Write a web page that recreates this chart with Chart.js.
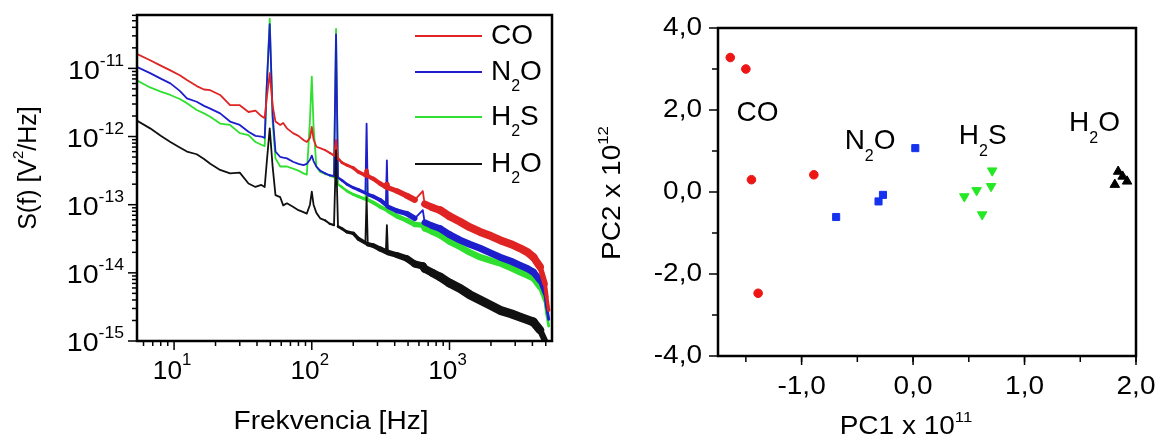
<!DOCTYPE html>
<html>
<head>
<meta charset="utf-8">
<script src="https://cdn.jsdelivr.net/npm/chart.js@4.4.1/dist/chart.umd.min.js"></script>
<style>
  html, body { margin: 0; padding: 0; background: #fff; }
  #wrap { position: relative; width: 1158px; height: 439px; overflow: hidden; }
  .box { position: absolute; top: 0; height: 439px; }
</style>
</head>
<body>
<div id="wrap">
  <div class="box" style="left:0;width:580px"><canvas id="spec"></canvas></div>
  <div class="box" style="left:580px;width:578px"><canvas id="pca"></canvas></div>
</div>
<script>
/* ---- left panel: noise spectra, values read as log10 S(f) ---- */
var freq = [5.4, 6.7, 8.0, 9.4, 11, 12.4, 14.6, 16.5, 18.3, 21.6, 25.5, 30, 34.7, 39, 43, 45.5, 47, 49.5, 52, 54.5,
  59, 62, 66, 73, 80, 87, 92, 97, 100, 103, 108, 115, 125, 135, 145, 150, 155, 165, 180, 200,
  218, 245, 250, 255, 280, 313, 345, 351, 357, 416, 490, 560, 640, 660, 750, 855, 1000, 1194, 1400, 1668,
  2000, 2331, 2800, 3258, 3700, 4068, 4545, 4944, 5080, 5250];

var coLog = [-10.79, -10.88, -10.96, -11.03, -11.10, -11.17, -11.26, -11.31, -11.32, -11.39, -11.54, -11.54, -11.64, -11.62, -11.70, -11.73, -11.45, -11.07, -11.55, -11.78,
  -11.83, -11.80, -11.88, -11.95, -11.99, -12.05, -12.08, -12.02, -11.86, -12.04, -12.15, -12.17, -12.20, -12.24, -12.28, -12.05, -12.32, -12.38, -12.42, -12.46,
  -12.52, -12.57, -12.50, -12.58, -12.62, -12.69, -12.74, -12.70, -12.75, -12.80, -12.87, -12.93, -12.80, -12.99, -13.04, -13.08, -13.17, -13.25, -13.33, -13.40,
  -13.46, -13.52, -13.58, -13.64, -13.70, -13.77, -13.91, -14.16, -14.35, -14.55];

var n2oLog = [-10.98, -11.07, -11.15, -11.22, -11.33, -11.44, -11.49, -11.55, -11.59, -11.66, -11.78, -11.83, -11.93, -11.99, -12.00, -12.02, -11.30, -10.35, -11.70, -12.22,
  -12.30, -12.31, -12.32, -12.37, -12.40, -12.42, -12.40, -12.34, -12.28, -12.36, -12.44, -12.50, -12.54, -12.57, -12.58, -10.50, -12.60, -12.64, -12.70, -12.75,
  -12.78, -12.83, -11.81, -12.85, -12.88, -12.93, -13.00, -12.35, -13.03, -13.09, -13.13, -13.20, -13.08, -13.26, -13.31, -13.35, -13.44, -13.52, -13.58, -13.64,
  -13.71, -13.77, -13.83, -13.89, -13.94, -13.99, -14.11, -14.30, -14.50, -14.68];

var h2sLog = [-11.18, -11.28, -11.34, -11.39, -11.45, -11.51, -11.61, -11.66, -11.71, -11.81, -11.83, -11.95, -11.98, -12.08, -12.12, -12.14, -11.30, -10.27, -11.80, -12.32,
  -12.44, -12.44, -12.44, -12.47, -12.50, -12.54, -12.56, -11.75, -11.12, -11.85, -12.44, -12.52, -12.55, -12.57, -12.60, -10.42, -12.70, -12.74, -12.80, -12.85,
  -12.88, -12.92, -12.70, -12.93, -12.97, -13.03, -13.07, -12.95, -13.09, -13.17, -13.23, -13.29, -13.30, -13.35, -13.40, -13.45, -13.54, -13.62, -13.70, -13.77,
  -13.82, -13.86, -13.93, -13.99, -14.04, -14.08, -14.21, -14.40, -14.60, -14.78];

var h2oLog = [-11.77, -11.88, -11.99, -12.08, -12.16, -12.22, -12.26, -12.33, -12.40, -12.49, -12.54, -12.53, -12.69, -12.74, -12.71, -12.74, -12.40, -11.88, -12.45, -12.86,
  -12.89, -13.01, -12.98, -13.03, -13.08, -13.11, -13.13, -13.00, -12.81, -13.00, -13.12, -13.20, -13.23, -13.28, -13.30, -12.20, -13.32, -13.35, -13.40, -13.42,
  -13.50, -13.56, -12.89, -13.58, -13.60, -13.65, -13.69, -13.30, -13.70, -13.74, -13.79, -13.87, -13.90, -13.94, -14.00, -14.06, -14.15, -14.23, -14.32, -14.40,
  -14.48, -14.55, -14.60, -14.65, -14.69, -14.72, -14.84, -15.00, -15.10, -15.20];

/* ---- right panel: PCA scores ---- */
var coX = [-1.64, -1.50, -1.45, -0.89, -1.39];
var coY = [3.28, 3.00, 0.30, 0.42, -2.47];
var n2oX = [0.02, -0.69, -0.31, -0.27];
var n2oY = [1.07, -0.61, -0.23, -0.07];
var h2sX = [0.71, 0.70, 0.57, 0.46, 0.62];
var h2sY = [0.52, 0.14, 0.04, -0.11, -0.55];
var h2oX = [1.84, 1.88, 1.92, 1.81];
var h2oY = [0.50, 0.38, 0.26, 0.18];

var xTicksPC = [-1, 0, 1, 2];
var yTicksPC = [-4, -2, 0, 2, 4];

var FONT = '"Liberation Sans", Arial, sans-serif';

// draws text made of pieces (normal / superscript / subscript)
function richText(ctx, parts, x, y, align, sx) {
  sx = sx || 1;
  var total = 0;
  parts.forEach(function(p) {
    ctx.font = p.size + 'px ' + FONT;
    p.w = ctx.measureText(p.t).width * sx;
    total += p.w;
  });
  var cx = align === 'right' ? x - total : (align === 'center' ? x - total / 2 : x);
  ctx.textAlign = 'left';
  ctx.textBaseline = 'middle';
  parts.forEach(function(p) {
    ctx.font = p.size + 'px ' + FONT;
    ctx.save();
    ctx.translate(cx, y + (p.dy || 0));
    ctx.scale(sx, 1);
    ctx.fillText(p.t, 0, 0);
    ctx.restore();
    cx += p.w;
  });
}

function rotText(ctx, parts, x, y, sx) {
  ctx.save();
  ctx.translate(x, y);
  ctx.rotate(-Math.PI / 2);
  richText(ctx, parts, 0, 0, 'center', sx);
  ctx.restore();
}

function chem(a, b, size) {
  // e.g. chem('N', 'O') -> N2O with a lowered 2
  return [{t: a, size: size}, {t: '2', size: 16, dy: 15}, {t: b, size: size}];
}

// the noisy band gets wider towards high frequencies, then pinches at the end
function bandWidth(f, y0, y1, maxW) {
  if (f <= 120) return 1.8;
  if (f < 4000 && Math.abs(Math.log10(y1 / y0)) > 0.09) return 1.8;   // keep spikes thin
  var t = Math.log10(f / 120) / Math.log10(900 / 120);
  if (t > 1) t = 1;
  var w = 1.8 + t * (maxW - 1.8);
  if (f > 4000) {
    var k = Math.log10(f / 4000) / Math.log10(5250 / 4000);
    w = w * (1 - 0.65 * Math.min(k, 1));
  }
  return w;
}

function series(label, logs, color, maxW, order) {
  return {
    label: label,
    data: freq.map(function(f, i) { return {x: f, y: Math.pow(10, logs[i])}; }),
    borderColor: color,
    borderWidth: 1.8,
    borderCapStyle: 'round',
    borderJoinStyle: 'round',
    pointRadius: 0,
    tension: 0,
    order: order,
    segment: {
      borderWidth: function(c) { return bandWidth(c.p0.parsed.x, c.p0.parsed.y, c.p1.parsed.y, maxW); }
    }
  };
}

var RED = '#e02424', BLUE = '#1e1ecc', GREEN = '#30e030', BLACK = '#111111';

var specAxes = {
  id: 'specAxes',
  afterDatasetsDraw: function(chart) {
    var ctx = chart.ctx, a = chart.chartArea;
    var xs = chart.scales.x, ys = chart.scales.y;
    ctx.save();
    ctx.fillStyle = '#000';
    ctx.strokeStyle = '#000';
    ctx.lineWidth = 2.5;
    ctx.strokeRect(a.left, a.top, a.right - a.left, a.bottom - a.top);

    ctx.lineWidth = 1.5;
    var e, m, v, p, len;
    for (e = 0; e <= 3; e++) {
      for (m = 1; m <= 9; m++) {
        v = m * Math.pow(10, e);
        if (v < xs.min || v > xs.max) continue;
        p = xs.getPixelForValue(v);
        len = m === 1 ? 9 : 5;
        ctx.beginPath(); ctx.moveTo(p, a.bottom); ctx.lineTo(p, a.bottom + len); ctx.stroke();
        if (m === 1) {
          richText(ctx, [{t: '10', size: 25}, {t: String(e), size: 16, dy: -11}], p - 2, 372, 'center', 1.05);
        }
      }
    }
    for (e = -16; e <= -10; e++) {
      for (m = 1; m <= 9; m++) {
        v = m * Math.pow(10, e);
        if (v < ys.min * 0.999 || v > ys.max) continue;
        p = ys.getPixelForValue(v);
        len = m === 1 ? 9 : 5;
        ctx.beginPath(); ctx.moveTo(a.left, p); ctx.lineTo(a.left - len, p); ctx.stroke();
        if (m === 1) {
          richText(ctx, [{t: '10', size: 26}, {t: '-' + (-e), size: 16, dy: -10}], 124, p + 3, 'right', 1.1);
        }
      }
    }

    richText(ctx, [{t: 'Frekvencia [Hz]', size: 26}], 331, 422, 'center', 1.08);
    rotText(ctx, [{t: 'S(f) [V', size: 25}, {t: '2', size: 15, dy: -10}, {t: '/Hz]', size: 25}], 29, 168);

    // legend
    var rows = [
      {y: 36, color: RED, parts: [{t: 'CO', size: 28}]},
      {y: 72, color: BLUE, parts: chem('N', 'O', 28)},
      {y: 117, color: GREEN, parts: chem('H', 'S', 28)},
      {y: 164, color: BLACK, parts: chem('H', 'O', 28)}
    ];
    rows.forEach(function(r) {
      ctx.strokeStyle = r.color;
      ctx.lineWidth = 2;
      ctx.beginPath(); ctx.moveTo(415, r.y); ctx.lineTo(482, r.y); ctx.stroke();
      ctx.fillStyle = '#000';
      richText(ctx, r.parts, 491, r.y, 'left');
    });
    ctx.restore();
  }
};

new Chart(document.getElementById('spec'), {
  type: 'line',
  data: {
    datasets: [
      series('H2O', h2oLog, BLACK, 9, 0),
      series('CO', coLog, RED, 8, 1),
      series('N2O', n2oLog, BLUE, 7, 2),
      series('H2S', h2sLog, GREEN, 6.5, 3)
    ]
  },
  options: {
    responsive: true,
    maintainAspectRatio: false,
    animation: false,
    layout: { padding: { left: 137, top: 15, right: 28, bottom: 98 } },
    plugins: { legend: { display: false }, tooltip: { enabled: false } },
    scales: {
      x: { type: 'logarithmic', min: 5.38, max: 5550, display: false },
      y: { type: 'logarithmic', min: 1e-15, max: 6.07e-11, display: false }
    }
  },
  plugins: [specAxes]
});

/* ---- right panel ---- */
function pts(xs, ys) {
  return xs.map(function(x, i) { return {x: x, y: ys[i]}; });
}
function fmt(v) { return v.toFixed(1).replace('.', ','); }

var pcaAxes = {
  id: 'pcaAxes',
  afterDatasetsDraw: function(chart) {
    var ctx = chart.ctx, a = chart.chartArea;
    var xs = chart.scales.x, ys = chart.scales.y;
    ctx.save();
    ctx.fillStyle = '#000';
    ctx.strokeStyle = '#000';
    ctx.lineWidth = 2.5;
    ctx.strokeRect(a.left, a.top, a.right - a.left, a.bottom - a.top);
    ctx.lineWidth = 1.5;
    var v, p;
    for (v = -1.5; v <= 2.001; v += 0.5) {
      p = xs.getPixelForValue(v);
      ctx.beginPath(); ctx.moveTo(p, a.bottom); ctx.lineTo(p, a.bottom + 6); ctx.stroke();
    }
    for (v = -3; v <= 3.001; v += 2) {
      p = ys.getPixelForValue(v);
      ctx.beginPath(); ctx.moveTo(a.left, p); ctx.lineTo(a.left - 6, p); ctx.stroke();
    }
    xTicksPC.forEach(function(t) {
      p = xs.getPixelForValue(t);
      ctx.beginPath(); ctx.moveTo(p, a.bottom); ctx.lineTo(p, a.bottom + 9); ctx.stroke();
      richText(ctx, [{t: fmt(t), size: 25}], p, 387, 'center', 1.12);
    });
    yTicksPC.forEach(function(t) {
      p = ys.getPixelForValue(t);
      ctx.beginPath(); ctx.moveTo(a.left, p); ctx.lineTo(a.left - 9, p); ctx.stroke();
      richText(ctx, [{t: fmt(t), size: 25}], a.left - 16, p, 'right', 1.12);
    });

    richText(ctx, [{t: 'PC1 x 10', size: 25}, {t: '11', size: 15, dy: -9}], 326, 427, 'center', 1.12);
    rotText(ctx, [{t: 'PC2 x 10', size: 25}, {t: '12', size: 15, dy: -9}], 33, 193, 1.12);

    // group names
    var names = [
      {x: -1.583, y: 1.93, parts: [{t: 'CO', size: 28}]},
      {x: -0.614, y: 1.23, parts: chem('N', 'O', 28)},
      {x: 0.41, y: 1.36, parts: chem('H', 'S', 28)},
      {x: 1.40, y: 1.68, parts: chem('H', 'O', 28)}
    ];
    names.forEach(function(n) {
      richText(ctx, n.parts, xs.getPixelForValue(n.x), ys.getPixelForValue(n.y), 'left');
    });
    ctx.restore();
  }
};

new Chart(document.getElementById('pca'), {
  type: 'scatter',
  data: {
    datasets: [
      { label: 'CO', data: pts(coX, coY), pointStyle: 'circle', pointRadius: 4.3,
        backgroundColor: '#ee1515', borderColor: '#ee1515' },
      { label: 'N2O', data: pts(n2oX, n2oY), pointStyle: 'rect', pointRadius: 5,
        backgroundColor: '#1533ee', borderColor: '#1533ee' },
      { label: 'H2S', data: pts(h2sX, h2sY), pointStyle: 'triangle', pointRotation: 180, pointRadius: 5.5,
        backgroundColor: '#25e825', borderColor: '#25e825' },
      { label: 'H2O', data: pts(h2oX, h2oY), pointStyle: 'triangle', pointRadius: 5.5,
        backgroundColor: '#000', borderColor: '#000' }
    ]
  },
  options: {
    responsive: true,
    maintainAspectRatio: false,
    animation: false,
    layout: { padding: { left: 138, top: 28, right: 22, bottom: 83 } },
    plugins: { legend: { display: false }, tooltip: { enabled: false } },
    scales: {
      x: { type: 'linear', min: -1.75, max: 2.0, display: false },
      y: { type: 'linear', min: -4, max: 4, display: false }
    }
  },
  plugins: [pcaAxes]
});
</script>
</body>
</html>
